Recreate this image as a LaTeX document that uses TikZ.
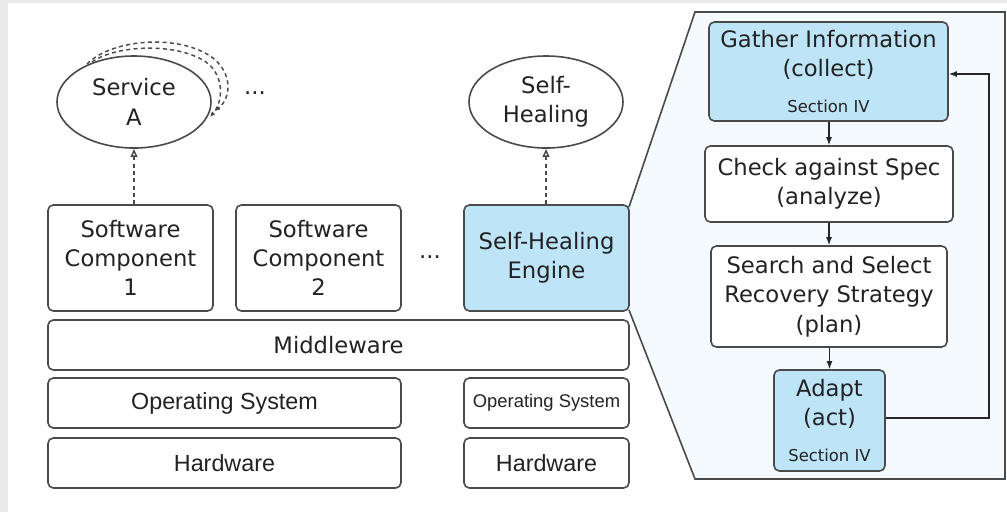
\documentclass[tikz,border=0pt]{standalone}
\usepackage{fontspec}
\setmainfont{DejaVu Sans}
\newfontfamily\arialfont{Liberation Sans}
\usetikzlibrary{arrows.meta,shapes.geometric}
\definecolor{edge}{HTML}{4A4A4A}
\definecolor{txt}{HTML}{222222}
\definecolor{bluefill}{HTML}{BEE4F8}
\definecolor{panelfill}{HTML}{F4FAFE}
\definecolor{frame}{HTML}{EAEAEA}
\newcommand{\sectxt}{\fontsize{12.3}{14}\selectfont}
\tikzset{
  box/.style={draw=edge, line width=1.2pt, rounded corners=4pt, inner sep=0pt,
    align=center, text=txt, font=\fontsize{17}{22}\selectfont},
  bluebox/.style={box, fill=bluefill},
  layer/.style={box, font=\arialfont\fontsize{17.5}{22}\selectfont},
  ell/.style={draw=edge, line width=1.2pt, ellipse, inner sep=0pt, align=center,
    text=txt, font=\fontsize{17}{22}\selectfont},
  flow/.style={draw=black!85, line width=1pt, -{Latex[length=6pt,width=4.5pt]}},
  realize/.style={draw=edge, line width=1.1pt, dash pattern=on 3pt off 2.5pt,
    -{Triangle[open,length=6pt,width=5pt]}},
  loopy/.style={draw=edge, line width=1.1pt, dash pattern=on 3pt off 2.5pt,
    -{Latex[length=4pt,width=3.5pt]}},
  dots/.style={text=txt, font=\fontsize{17}{22}\selectfont, inner sep=0pt}
}
\begin{document}
\begin{tikzpicture}[x=0.75pt,y=-0.75pt]
\useasboundingbox (0,0) rectangle (1007,512);
\fill[white] (0,0) rectangle (1007,512);
\fill[frame] (0,0) rectangle (8,512);
\fill[frame] (0,0) rectangle (1007,3);

% right panel (zoom of the engine)
\draw[edge, line width=1.2pt, fill=panelfill] (629,207) -- (695,12) -- (1005,12) -- (1005,479) -- (695,479) -- (629,310);

% left stack
\node[box, minimum width=123.75pt, minimum height=79.5pt] (sc1) at (130.5,258) {Software\\Component\\1};
\node[box, minimum width=123.75pt, minimum height=79.5pt] (sc2) at (318.5,258) {Software\\Component\\2};
\node[bluebox, minimum width=123.75pt, minimum height=79.5pt] (she) at (546.5,258) {Self-Healing\\Engine};
\node[box, minimum width=435.75pt, minimum height=37.5pt] (mw) at (338.5,345) {Middleware};
\node[layer, minimum width=264.75pt, minimum height=37.5pt] (os1) at (224.5,403) {Operating System};
\node[layer, minimum width=123.75pt, minimum height=37.5pt, font=\arialfont\fontsize{13.8}{16}\selectfont] (os2) at (546.5,403) {Operating System};
\node[layer, minimum width=264.75pt, minimum height=37.5pt] (hw1) at (224.5,463) {Hardware};
\node[layer, minimum width=123.75pt, minimum height=37.5pt] (hw2) at (546.5,463) {Hardware};

\node[dots] (d1) at (430,257) {...};
\node[dots] (d2) at (255,93) {...};

% services
\node[ell, minimum width=115.5pt, minimum height=69pt] (sa) at (134,102) {Service\\A};
\node[ell, minimum width=115.5pt, minimum height=69pt] (sh) at (546,102) {Self-\\Healing};

\draw[realize] (sc1.north -| sa.south) -- (sa.south);
\draw[realize] (she.north -| sh.south) -- (sh.south);

% self loops on Service A
\coordinate (la1) at (87,64);
\coordinate (la2) at (215,111);
\coordinate (lb1) at (92,62);
\coordinate (lb2) at (210,117);
\draw[loopy] (la1) .. controls (113,38) and (181,34) .. (213,58) .. controls (233,74) and (231,98) .. (la2);
\draw[loopy] (lb1) .. controls (116,45) and (176,42) .. (206,62) .. controls (225,76) and (223,102) .. (lb2);

% MAPE loop
\node[bluebox, minimum width=179.25pt, minimum height=74.25pt] (gather) at (828.5,71.5) {Gather Information\\(collect)\\[5pt]{\sectxt Section IV}};
\node[box, minimum width=186pt, minimum height=57pt, fill=white] (check) at (829,184) {Check against Spec\\(analyze)};
\node[box, minimum width=177pt, minimum height=75.75pt, fill=white] (search) at (829,296.5) {Search and Select\\Recovery Strategy\\(plan)};
\node[bluebox, minimum width=83.25pt, minimum height=75.75pt] (adapt) at (829.5,420.5) {Adapt\\(act)\\[5pt]{\sectxt Section IV}};

\draw[flow] (gather.south -| check.north) -- (check.north);
\draw[flow] (check) -- (search);
\draw[flow] (search.south -| adapt.north) -- (adapt.north);
\coordinate (fbr) at (989,418);
\coordinate (fbt) at (989,74);
\draw[flow] (adapt.east |- fbr) -- (fbr) -- (fbt) -- (gather.east |- fbt);
\end{tikzpicture}
\end{document}
